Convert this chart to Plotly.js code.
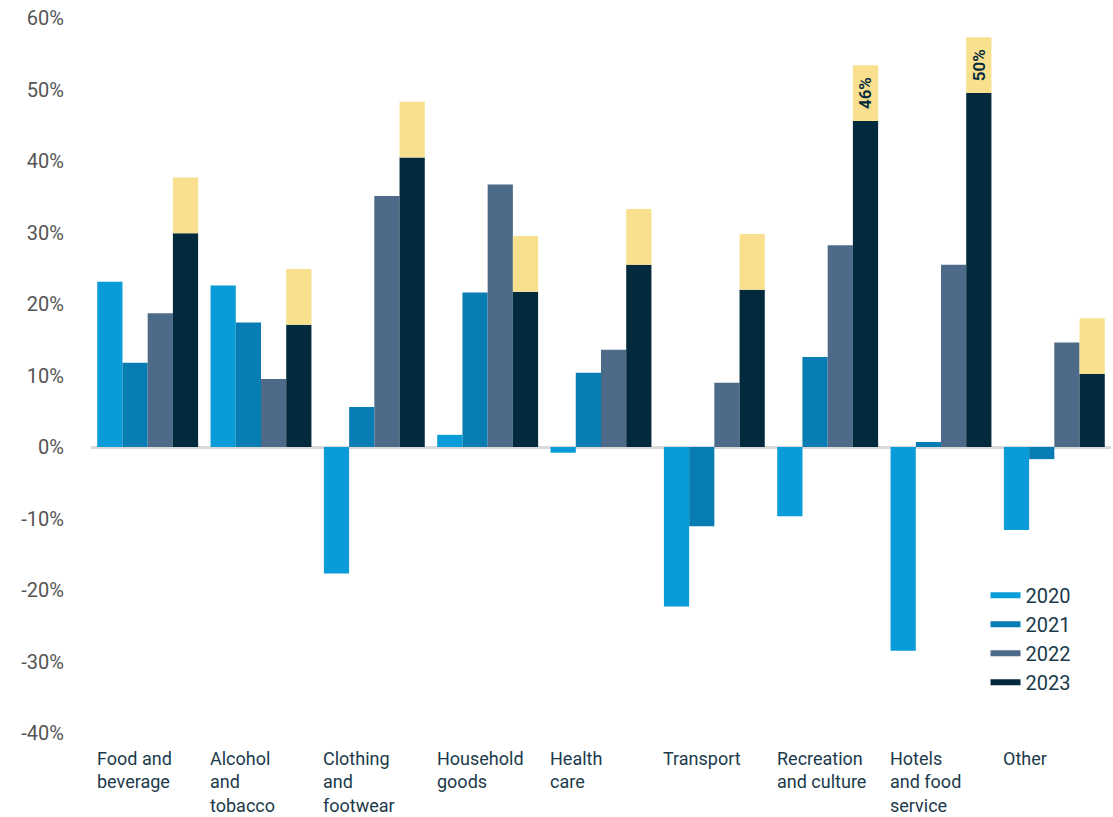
<!DOCTYPE html>
<html>
<head>
<meta charset="utf-8">
<script src="https://cdn.plot.ly/plotly-3.0.1.min.js"></script>
<style>html,body{margin:0;padding:0;background:#fff;}#chart{width:1113px;height:817px;}</style>
</head>
<body>
<div id="chart"></div>
<script>
var categories = ["Food and beverage","Alcohol and tobacco","Clothing and footwear","Household goods","Health care","Transport","Recreation and culture","Hotels and food service","Other"];
var categoryLabels = ["Food and<br>beverage","Alcohol<br>and<br>tobacco","Clothing<br>and<br>footwear","Household<br>goods","Health<br>care","Transport","Recreation<br>and culture","Hotels<br>and food<br>service","Other"];
var y2020 = [23.1, 22.6, -17.7, 1.7, -0.8, -22.3, -9.7, -28.5, -11.6];
var y2021 = [11.8, 17.4, 5.6, 21.6, 10.4, -11.1, 12.6, 0.7, -1.7];
var y2022 = [18.7, 9.5, 35.1, 36.7, 13.6, 9.0, 28.2, 25.5, 14.6];
var y2023 = [29.9, 17.1, 40.5, 21.7, 25.5, 22.0, 45.6, 49.5, 10.2];
var yExtra = [7.8, 7.8, 7.8, 7.8, 7.8, 7.8, 7.8, 7.8, 7.8];
var extraLabels = ["", "", "", "", "", "", "46%", "50%", ""];
var seriesNames = ["2020","2021","2022","2023"];
var colors = ["#099cd8","#077db3","#4d6b89","#022a3c"];
var yellow = "#f8e08e";
var tickVals = [-40,-30,-20,-10,0,10,20,30,40,50,60];
var tickText = ["-40%","-30%","-20%","-10%","0%","10%","20%","30%","40%","50%","60%"];

var fontFam = "Roboto, 'Open Sans', sans-serif";
var series = [y2020, y2021, y2022, y2023];
var traces = [];
series.forEach(function(s, i){
  traces.push({
    type: "bar", x: categories, y: s, name: seriesNames[i],
    offsetgroup: seriesNames[i], marker: {color: colors[i]},
    showlegend: false, hoverinfo: "y"
  });
});
traces.push({
  type: "bar", x: categories, y: yExtra, base: y2023, name: "range",
  offsetgroup: "2023", marker: {color: yellow},
  text: extraLabels, textposition: "inside", insidetextanchor: "middle",
  textangle: -90, constraintext: "none",
  insidetextfont: {family: fontFam, size: 17, color: "#03293d", weight: 600},
  showlegend: false, hoverinfo: "skip"
});
series.forEach(function(s, i){
  traces.push({
    type: "scatter", mode: "lines", x: [null], y: [null], name: seriesNames[i],
    line: {color: colors[i], width: 6}, showlegend: true, hoverinfo: "skip"
  });
});

var annotations = categories.map(function(c, i){
  return {
    x: c, xref: "x", y: 0, yref: "paper", yanchor: "top", yshift: -13,
    xanchor: "left", xshift: -53, align: "left", showarrow: false,
    text: categoryLabels[i], font: {family: fontFam, size: 18, color: "#1b3a4b"}
  };
});

var layout = {
  width: 1113, height: 817,
  margin: {l: 91, r: 2, t: 18, b: 84},
  paper_bgcolor: "#fff", plot_bgcolor: "#fff",
  barmode: "group", bargap: 0.11, bargroupgap: 0,
  font: {family: fontFam},
  xaxis: {showticklabels: false, showgrid: false, zeroline: false, showline: false, ticks: ""},
  yaxis: {
    range: [-40, 60], tickvals: tickVals, ticktext: tickText,
    showgrid: false, zeroline: true, zerolinecolor: "#d9d9d9", zerolinewidth: 3,
    showline: false, ticks: "outside", ticklen: 22, tickcolor: "rgba(0,0,0,0)",
    tickfont: {family: fontFam, size: 20, color: "#555555"}
  },
  legend: {
    x: 0.877, y: 0.22, xanchor: "left", yanchor: "top",
    bgcolor: "rgba(0,0,0,0)", font: {family: fontFam, size: 20, color: "#1b3a4b"},
    tracegroupgap: 0, itemwidth: 30
  },
  annotations: annotations,
  showlegend: true
};

Plotly.newPlot("chart", traces, layout, {displayModeBar: false, staticPlot: true});
</script>
</body>
</html>
